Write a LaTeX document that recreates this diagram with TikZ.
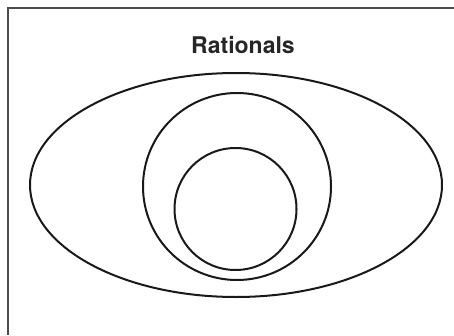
\documentclass[tikz,border=0pt]{standalone}
\usepackage{fontspec}
\setmainfont{TeX Gyre Heros}
\usetikzlibrary{shapes.geometric}
\begin{document}
\begin{tikzpicture}[x=1pt,y=1pt,
  setline/.style={draw=black!90, line width=2pt, ellipse, inner sep=0pt},
  frameline/.style={draw=black!70, line width=1.5pt}]
\useasboundingbox (0,0) rectangle (454,335);
\coordinate (fbl) at (8,0);
\coordinate (ftl) at (8,327);
\coordinate (ftr) at (454,327);
\draw[frameline] (fbl) -- (ftl) -- (ftr);
\node[font=\fontsize{23}{27}\selectfont\bfseries, text=black!85] (title) at (243,290) {Rationals};
\node[setline, minimum width=412pt, minimum height=224pt] (rat) at (236,150) {};
\node[setline, minimum width=188pt, minimum height=187pt] (integ) at (237,148.5) {};
\node[setline, minimum width=122pt, minimum height=122pt] (whole) at (235.5,126) {};
\end{tikzpicture}
\end{document}
